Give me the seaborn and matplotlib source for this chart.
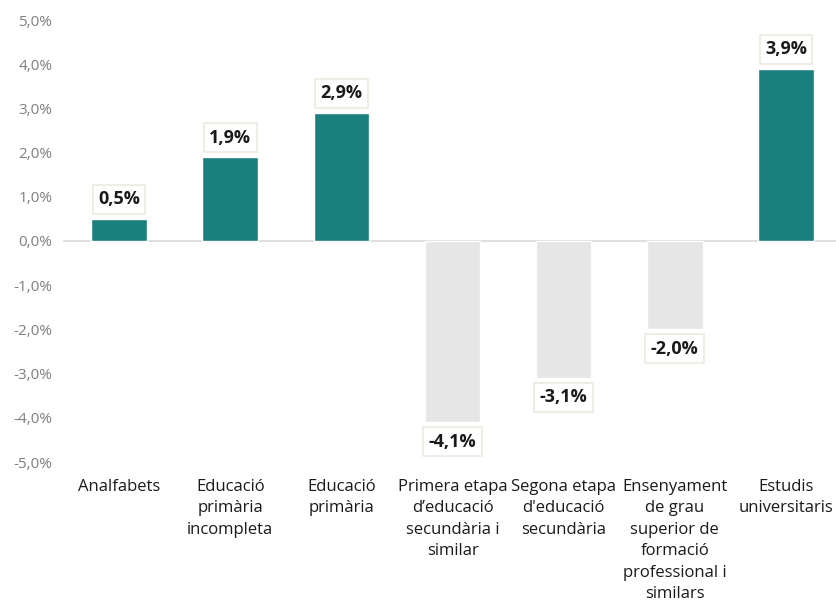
import matplotlib
matplotlib.use("Agg")
import matplotlib.pyplot as plt
import seaborn as sns
import pandas as pd

categories = [
    "Analfabets",
    "Educació\nprimària\nincompleta",
    "Educació\nprimària",
    "Primera etapa\nd’educació\nsecundària i\nsimilar",
    "Segona etapa\nd'educació\nsecundària",
    "Ensenyament\nde grau\nsuperior de\nformació\nprofessional i\nsimilars",
    "Estudis\nuniversitaris",
]
values = [0.5, 1.9, 2.9, -4.1, -3.1, -2.0, 3.9]
yticks = [-5, -4, -3, -2, -1, 0, 1, 2, 3, 4, 5]

POS = "#1B7F7D"
NEG = "#E6E6E6"

sns.set_theme(style="white")
plt.rcParams["font.family"] = ["Open Sans", "DejaVu Sans"]

df = pd.DataFrame({"cat": categories, "val": values})
df["sign"] = ["pos" if v >= 0 else "neg" for v in values]

fig = plt.figure(figsize=(8.36, 6.08), dpi=100)
ax = fig.add_axes([63.5 / 836, 1 - 462 / 608, (841.5 - 63.5) / 836, (462 - 20) / 608])

sns.barplot(data=df, x="cat", y="val", hue="sign", palette={"pos": POS, "neg": NEG},
            width=0.5, dodge=False, legend=False, ax=ax, saturation=1)

ax.set_ylim(-5, 5)
ax.set_xlim(-0.5, len(categories) - 0.5)
ax.set_yticks(yticks)
ax.set_yticklabels([f"{t:.1f}%".replace(".", ",") for t in yticks], color="#7F7F7F", fontsize=11)
ax.set_xticks(range(len(categories)))
ax.set_xticklabels(categories, fontsize=12, color="#1a1a1a", linespacing=1.46, va="top")
ax.tick_params(axis="x", length=0, pad=12)
ax.tick_params(axis="y", length=0, pad=8)
ax.set_xlabel("")
ax.set_ylabel("")
for s in ax.spines.values():
    s.set_visible(False)
ax.axhline(0, color="#D9D9D9", lw=1.2, zorder=0)

for i, v in enumerate(values):
    off = 14 if v >= 0 else -14
    ax.annotate(f"{v:.1f}%".replace(".", ","), (i, v), xytext=(0, off), textcoords="offset points",
                ha="center", va="center", fontsize=13, fontweight="bold", color="#1a1a1a",
                bbox=dict(boxstyle="square,pad=0.3", fc="white", ec="#ECEAE0", lw=1.2))

fig.savefig("out.png", dpi=100)
